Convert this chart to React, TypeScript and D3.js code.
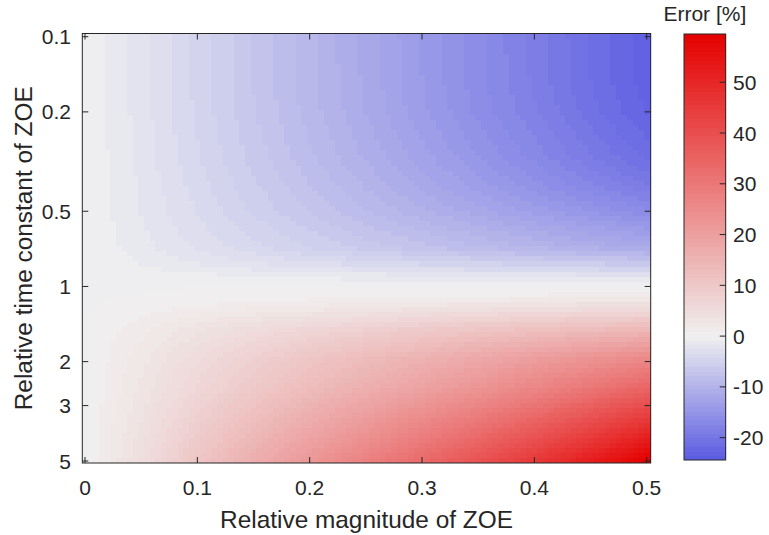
import React, { useMemo } from "react";
import * as d3 from "d3";

// ---- data ----
const magnitudes = [0, 0.05, 0.1, 0.15, 0.2, 0.25, 0.3, 0.35, 0.4, 0.45, 0.5];
const timeConstants = [0.1, 0.15, 0.2, 0.3, 0.4, 0.5, 0.6, 0.7, 0.8, 0.9, 1, 1.1, 1.2, 1.5, 2, 2.5, 3, 4, 5];
// error [%], one row per time constant, one column per magnitude
const errRow010 = [0, -2.2, -4.6, -7.0, -9.3, -11.6, -14.0, -16.3, -18.6, -21.0, -23.3];
const errRow015 = [0, -2.2, -4.6, -7.0, -9.3, -11.5, -13.9, -16.2, -18.5, -20.9, -23.2];
const errRow020 = [0, -2.1, -4.5, -6.8, -9.1, -11.3, -13.7, -15.9, -18.1, -20.5, -22.7];
const errRow030 = [0, -2.0, -4.2, -6.4, -8.5, -10.6, -12.7, -14.8, -16.9, -19.1, -21.2];
const errRow040 = [0, -1.8, -3.8, -5.8, -7.7, -9.6, -11.5, -13.4, -15.2, -17.1, -18.9];
const errRow050 = [0, -1.7, -3.5, -5.3, -7.0, -8.6, -10.2, -11.8, -13.3, -14.8, -16.3];
const errRow060 = [0, -1.5, -3.1, -4.6, -6.0, -7.4, -8.7, -10.0, -11.3, -12.5, -13.7];
const errRow070 = [0, -1.3, -2.7, -4.0, -5.2, -6.4, -7.5, -8.6, -9.6, -10.6, -11.5];
const errRow080 = [0, -0.9, -1.8, -2.6, -3.4, -4.1, -4.8, -5.4, -6.0, -6.5, -7.0];
const errRow090 = [0, -0.3, -0.6, -0.9, -1.1, -1.4, -1.6, -1.9, -2.1, -2.3, -2.5];
const errRow100 = [0, 0, 0, 0, 0, 0, 0, 0, 0, 0, 0];
const errRow110 = [0, 0.1, 0.3, 0.5, 0.6, 0.8, 0.9, 1.1, 1.2, 1.4, 1.5];
const errRow120 = [0, 0.4, 0.9, 1.4, 1.9, 2.4, 2.9, 3.3, 3.8, 4.2, 4.6];
const errRow150 = [0, 1.5, 3.4, 5.1, 6.7, 8.2, 9.6, 10.9, 12.1, 13.2, 14.2];
const errRow200 = [0, 2.4, 5.4, 8.2, 10.9, 13.5, 16.0, 18.6, 21.3, 24.0, 26.8];
const errRow250 = [0, 2.8, 6.3, 9.6, 12.8, 16.0, 19.1, 22.4, 26.0, 29.8, 33.9];
const errRow300 = [0, 3.2, 7.4, 11.3, 15.1, 18.9, 22.7, 26.7, 31.0, 35.7, 40.8];
const errRow400 = [0, 3.9, 9.1, 14.0, 18.8, 23.6, 28.4, 33.5, 39.0, 44.9, 51.2];
const errRow500 = [0, 4.5, 10.6, 16.3, 22.0, 27.6, 33.2, 39.0, 45.4, 52.2, 59.5];
const errorGrid = [
  errRow010, errRow015, errRow020, errRow030, errRow040, errRow050, errRow060,
  errRow070, errRow080, errRow090, errRow100, errRow110, errRow120, errRow150,
  errRow200, errRow250, errRow300, errRow400, errRow500,
];

const xTicks = [0, 0.1, 0.2, 0.3, 0.4, 0.5];
const xTickLabels = ["0", "0.1", "0.2", "0.3", "0.4", "0.5"];
const yTicks = [0.1, 0.2, 0.5, 1, 2, 3, 5];
const yTickLabels = ["0.1", "0.2", "0.5", "1", "2", "3", "5"];
const cbTicks = [-20, -10, 0, 10, 20, 30, 40, 50];
const colorLimits = [-24.4, 59.5];
const colorStops = ["#5a5ae2", "#f0f0f0", "#e50000"];

const W = 769;
const H = 535;
const FONT = "'Liberation Sans', Arial, Helvetica, sans-serif";
const AX = "#262626";

export default function App() {
  const box = { left: 82.3, right: 650.7, top: 33.5, bottom: 463 };
  const xScale = d3.scaleLinear().domain([0, 0.5]).range([85, 646.7]);
  const yScale = d3.scaleLog().domain([0.1, 5]).range([36.7, 461]);

  const cb = { left: 684, right: 725.7, top: 34, bottom: 460 };
  const cScale = d3.scaleLinear().domain(colorLimits).range([cb.bottom, cb.top]);

  const nLevels = 96;
  const baseColor = d3
    .scaleLinear<string>()
    .domain([colorLimits[0], 0, colorLimits[1]])
    .range(colorStops)
    .interpolate(d3.interpolateRgb)
    .clamp(true);
  const levelStep = (colorLimits[1] - colorLimits[0]) / nLevels;
  const colorOf = (v: number) => {
    let k = Math.floor((v - colorLimits[0]) / levelStep);
    k = Math.max(0, Math.min(nLevels - 1, k));
    return baseColor(colorLimits[0] + (k + 0.5) * levelStep);
  };

  const cells = useMemo(() => {
    const out: { x: number; y: number; w: number; h: number; fill: string }[] = [];
    const logT = timeConstants.map(Math.log10);
    const lo = logT[0];
    const hi = logT[logT.length - 1];
    const nRows = 85;
    const dl = (hi - lo) / (nRows - 1);
    const xStep = 0.005;
    const nCols = Math.round(0.5 / xStep) + 1;
    for (let r = 0; r < nRows; r++) {
      const lt = lo + r * dl;
      let j = d3.bisectRight(logT, lt) - 1;
      j = Math.max(0, Math.min(logT.length - 2, j));
      const tj = (lt - logT[j]) / (logT[j + 1] - logT[j]);
      const yTop = yScale(Math.pow(10, lt - dl / 2));
      const yBot = yScale(Math.pow(10, lt + dl / 2));
      for (let c = 0; c < nCols; c++) {
        const xv = c * xStep;
        let i = d3.bisectRight(magnitudes, xv) - 1;
        i = Math.max(0, Math.min(magnitudes.length - 2, i));
        const ti = (xv - magnitudes[i]) / (magnitudes[i + 1] - magnitudes[i]);
        const a = errorGrid[j][i] * (1 - ti) + errorGrid[j][i + 1] * ti;
        const b = errorGrid[j + 1][i] * (1 - ti) + errorGrid[j + 1][i + 1] * ti;
        const v = a * (1 - tj) + b * tj;
        let x0 = xScale(xv - xStep / 2);
        let x1 = xScale(xv + xStep / 2);
        let y0 = Math.min(yTop, yBot);
        let y1 = Math.max(yTop, yBot);
        x0 = Math.max(box.left, x0);
        x1 = Math.min(box.right, c === nCols - 1 ? box.right : x1);
        y0 = Math.max(box.top, r === 0 ? box.top : y0);
        y1 = Math.min(box.bottom, r === nRows - 1 ? box.bottom : y1);
        if (c === 0) x0 = box.left;
        out.push({ x: x0, y: y0, w: x1 - x0 + 0.4, h: y1 - y0 + 0.4, fill: colorOf(v) });
      }
    }
    return out;
  }, []);

  const cbLevels = d3.range(nLevels).map((k) => {
    const v0 = colorLimits[0] + k * levelStep;
    const v1 = v0 + levelStep;
    return { y: cScale(v1), h: cScale(v0) - cScale(v1) + 0.4, fill: colorOf(v0 + levelStep / 2) };
  });

  const tl = 6;

  return (
    <svg
      width={W}
      height={H}
      style={{ position: "absolute", left: 0, top: 0, background: "#fff" }}
      fontFamily={FONT}
    >
      <rect x={0} y={0} width={W} height={H} fill="#fff" />
      <g shapeRendering="crispEdges">
        {cells.map((c, k) => (
          <rect key={k} x={c.x} y={c.y} width={c.w} height={c.h} fill={c.fill} />
        ))}
      </g>
      <rect
        x={box.left}
        y={box.top}
        width={box.right - box.left}
        height={box.bottom - box.top}
        fill="none"
        stroke={AX}
        strokeWidth={1}
      />
      {xTicks.map((t, k) => (
        <g key={"xt" + k}>
          <line x1={xScale(t)} x2={xScale(t)} y1={box.bottom} y2={box.bottom - tl} stroke={AX} />
          <line x1={xScale(t)} x2={xScale(t)} y1={box.top} y2={box.top + tl} stroke={AX} />
          <text x={xScale(t)} y={495} textAnchor="middle" fontSize={21} fill={AX}>
            {xTickLabels[k]}
          </text>
        </g>
      ))}
      {yTicks.map((t, k) => (
        <g key={"yt" + k}>
          <line x1={box.left} x2={box.left + tl} y1={yScale(t)} y2={yScale(t)} stroke={AX} />
          <line x1={box.right} x2={box.right - tl} y1={yScale(t)} y2={yScale(t)} stroke={AX} />
          <text x={71} y={yScale(t)} dy="0.36em" textAnchor="end" fontSize={21} fill={AX}>
            {yTickLabels[k]}
          </text>
        </g>
      ))}
      <text x={(box.left + box.right) / 2} y={528} textAnchor="middle" fontSize={24.4} fill={AX}>
        Relative magnitude of ZOE
      </text>
      <text
        transform={`translate(32,${(box.top + box.bottom) / 2}) rotate(-90)`}
        textAnchor="middle"
        fontSize={24.4}
        fill={AX}
      >
        Relative time constant of ZOE
      </text>
      <g shapeRendering="crispEdges">
        {cbLevels.map((l, k) => (
          <rect key={"cb" + k} x={cb.left} y={l.y} width={cb.right - cb.left} height={l.h} fill={l.fill} />
        ))}
      </g>
      <rect
        x={cb.left}
        y={cb.top}
        width={cb.right - cb.left}
        height={cb.bottom - cb.top}
        fill="none"
        stroke={AX}
        strokeWidth={1}
      />
      {cbTicks.map((t, k) => (
        <g key={"ct" + k}>
          <line x1={cb.right} x2={cb.right - tl} y1={cScale(t)} y2={cScale(t)} stroke={AX} />
          <text x={733} y={cScale(t)} dy="0.36em" textAnchor="start" fontSize={21} fill={AX}>
            {String(t)}
          </text>
        </g>
      ))}
      <text x={(cb.left + cb.right) / 2} y={21} textAnchor="middle" fontSize={21} fill={AX}>
        Error [%]
      </text>
    </svg>
  );
}
